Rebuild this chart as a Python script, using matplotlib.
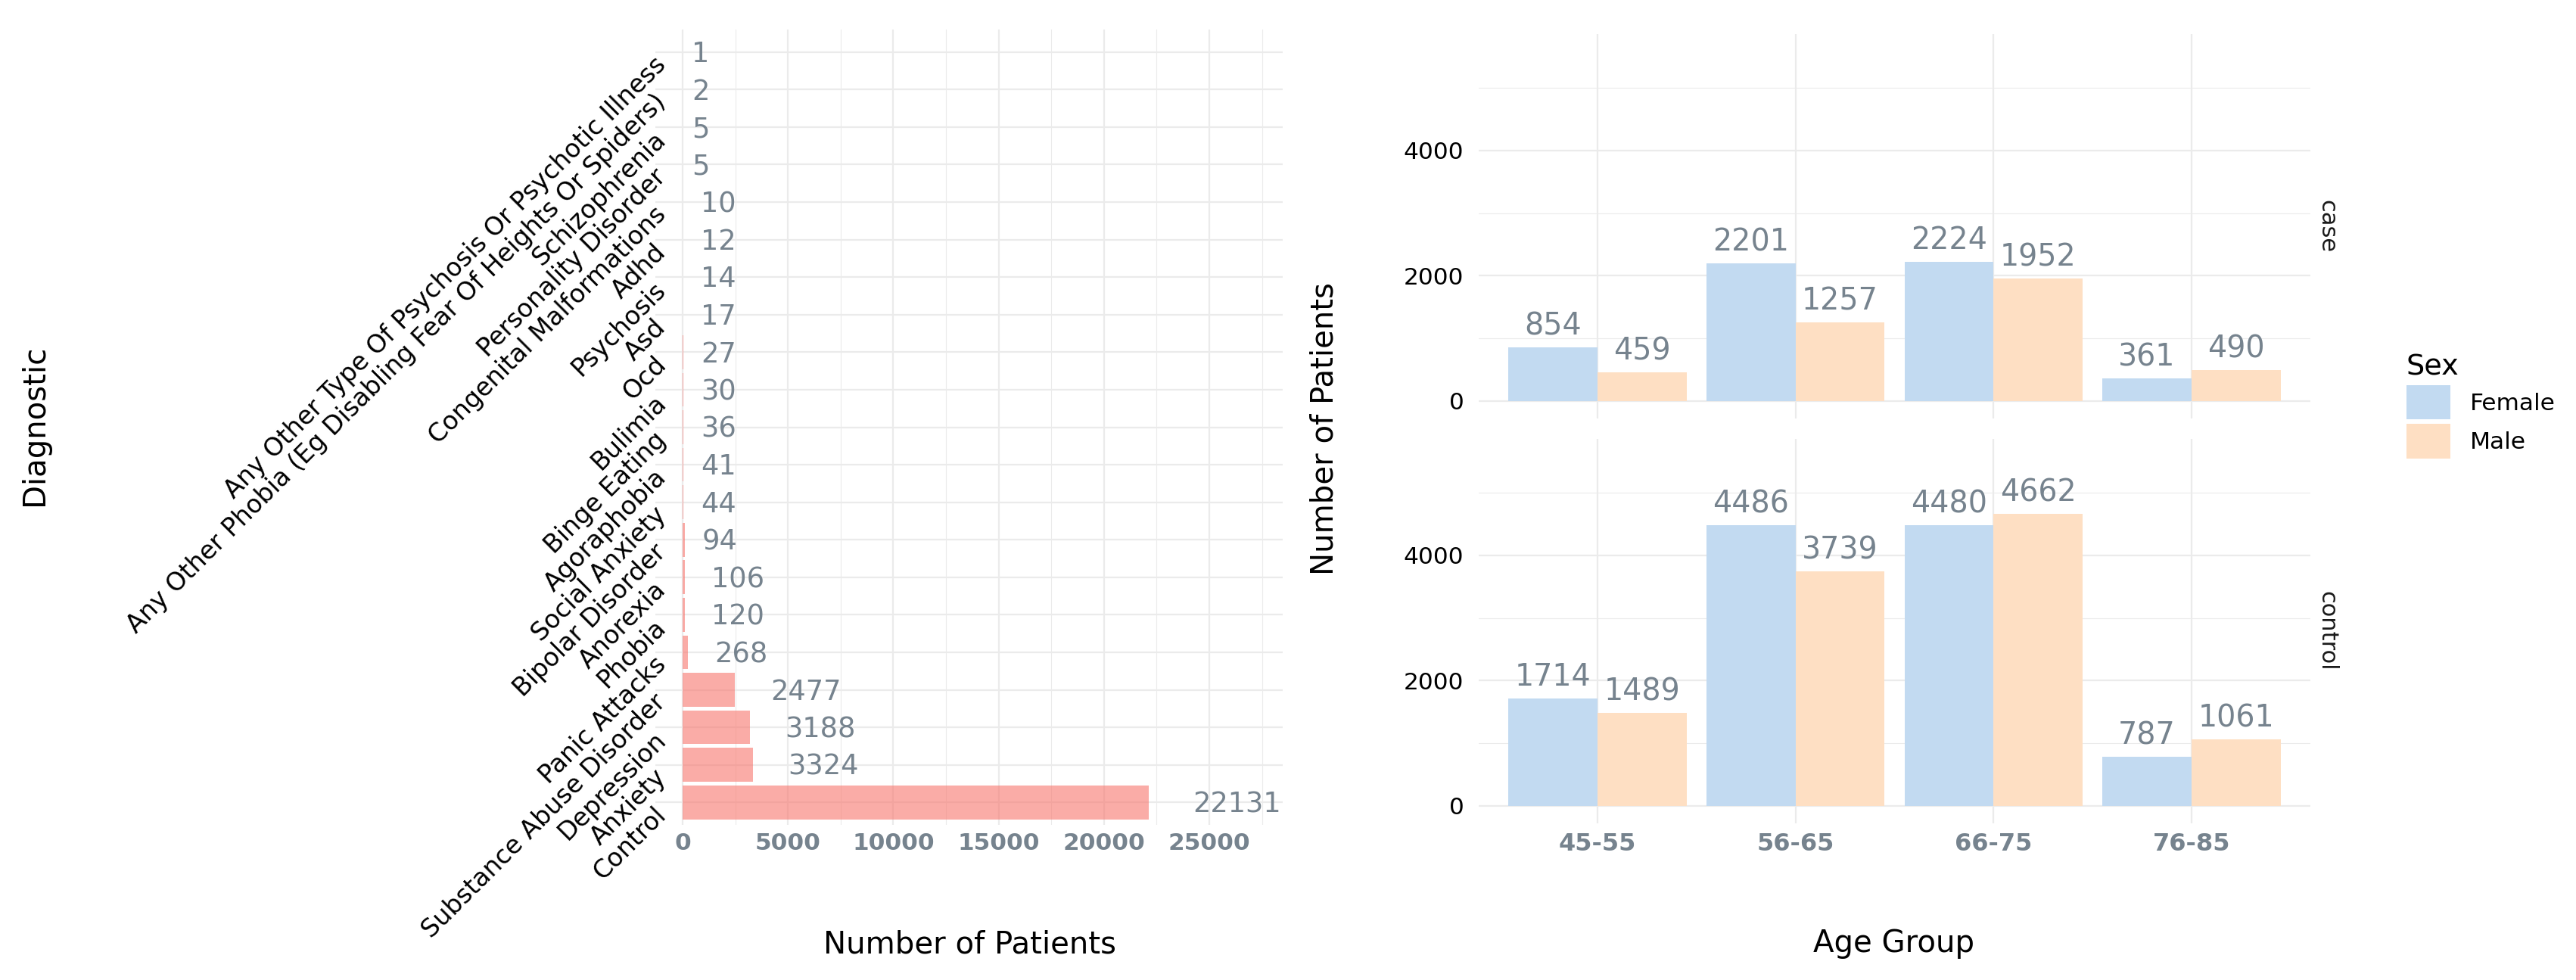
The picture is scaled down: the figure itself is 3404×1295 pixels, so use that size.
import matplotlib
matplotlib.use('Agg')
import matplotlib.pyplot as plt
from matplotlib.patches import Patch
import numpy as np

# ---------------- data ----------------
diagnostics = ["Control", "Anxiety", "Depression", "Substance Abuse Disorder",
               "Panic Attacks", "Phobia", "Anorexia", "Bipolar Disorder",
               "Social Anxiety", "Agoraphobia", "Binge Eating", "Bulimia",
               "Ocd", "Asd", "Psychosis", "Adhd", "Congenital Malformations",
               "Personality Disorder", "Schizophrenia",
               "Any Other Phobia (Eg Disabling Fear Of Heights Or Spiders)",
               "Any Other Type Of Psychosis Or Psychotic Illness"]
diag_counts = [22131, 3324, 3188, 2477, 268, 120, 106, 94, 44, 41, 36, 30,
               27, 17, 14, 12, 10, 5, 5, 2, 1]

age_groups = ["45-55", "56-65", "66-75", "76-85"]
sex_labels = ["Female", "Male"]
case_female = [854, 2201, 2224, 361]
case_male = [459, 1257, 1952, 490]
control_female = [1714, 4486, 4480, 787]
control_male = [1489, 3739, 4662, 1061]
facets = ["case", "control"]

# ---------------- style ----------------
W, H = 3404, 1295
fig = plt.figure(figsize=(W / 100, H / 100), dpi=100)
plt.rcParams['font.family'] = ['DejaVu Sans']

GRID = '#EBEBEB'
GRAY = '#76838e'
RED = '#F8766D'
BLUE = '#C2DAF1'
ORANGE = '#FEDFC3'


def frac(l, t, r, b):
    return [l / W, 1 - b / H, (r - l) / W, (b - t) / H]


def clean(ax):
    for s in ax.spines.values():
        s.set_visible(False)
    ax.set_axisbelow(True)


# ---------------- left panel ----------------
ax1 = fig.add_axes(frac(866, 39, 1695, 1090))
clean(ax1)
ax1.barh(diagnostics, diag_counts, height=0.9, color=RED, alpha=0.6, zorder=2)
ax1.set_xlim(-1293, 28484)
ax1.set_ylim(-0.6, len(diagnostics) - 0.4)
ax1.set_xticks(np.arange(0, 25001, 5000))
ax1.set_xticks(np.arange(2500, 28000, 5000), minor=True)
ax1.grid(which='major', color=GRID, lw=1.6)
ax1.xaxis.grid(which='minor', color=GRID, lw=0.8)
ax1.tick_params(axis='both', which='both', length=0)
ax1.tick_params(axis='x', labelsize=22.5, labelcolor=GRAY, pad=7)
for lab in ax1.get_xticklabels():
    lab.set_fontweight('bold')
ax1.tick_params(axis='y', labelsize=24, labelcolor='black', pad=2)
plt.setp(ax1.get_yticklabels(), rotation=45, ha='right', va='top',
         rotation_mode='anchor')
for name, v in zip(diagnostics, diag_counts):
    s = str(v)
    ax1.annotate(s, (v, name), xytext=(0.318 * len(s), -0.36),
                 textcoords='offset fontsize', ha='left', va='baseline',
                 fontsize=26.5, color=GRAY, zorder=3)

fig.text(1281 / W, 1 - 1249 / H, 'Number of Patients', ha='center',
         va='center', fontsize=29)
fig.text(46 / W, 1 - 562 / H, 'Diagnostic', ha='center', va='center',
         rotation=90, fontsize=29)

# ---------------- right panel ----------------
ax2 = fig.add_axes(frac(1954, 45, 3053, 553))
ax3 = fig.add_axes(frac(1954, 580, 3053, 1088))
x = np.arange(len(age_groups))
bw = 0.45
for ax, fem, mal, fname in [(ax2, case_female, case_male, facets[0]),
                            (ax3, control_female, control_male, facets[1])]:
    clean(ax)
    bf = ax.bar(x - bw / 2, fem, bw, color=BLUE, zorder=2)
    bm = ax.bar(x + bw / 2, mal, bw, color=ORANGE, zorder=2)
    for bars, vals in [(bf, fem), (bm, mal)]:
        for b, v in zip(bars, vals):
            ax.annotate(str(v), (b.get_x() + b.get_width() / 2, v),
                        xytext=(0, 0.42), textcoords='offset fontsize',
                        ha='center', va='baseline', fontsize=28.5, color=GRAY,
                        zorder=3)
    ax.set_xlim(-0.6, len(age_groups) - 0.4)
    ax.set_ylim(-280, 5860)
    ax.set_xticks(x)
    ax.set_xticklabels(age_groups)
    ax.set_yticks([0, 2000, 4000])
    ax.set_yticks([1000, 3000, 5000], minor=True)
    ax.grid(which='major', color=GRID, lw=1.6)
    ax.yaxis.grid(which='minor', color=GRID, lw=0.8)
    ax.tick_params(axis='both', which='both', length=0)
    ax.tick_params(axis='y', labelsize=22.5, labelcolor='black', pad=14)
    ax.tick_params(axis='x', labelsize=23, labelcolor=GRAY, pad=9)
    for lab in ax.get_xticklabels():
        lab.set_fontweight('bold')
    ax.text(1.02, 0.5, fname, transform=ax.transAxes, rotation=270,
            ha='center', va='center', fontsize=22, color='#1a1a1a')
ax2.tick_params(axis='x', labelbottom=False)

fig.text(1751 / W, 1 - 566 / H, 'Number of Patients', ha='center',
         va='center', rotation=90, fontsize=29)
fig.text(2503 / W, 1 - 1247 / H, 'Age Group', ha='center', va='center',
         fontsize=29)

handles = [Patch(facecolor=BLUE, edgecolor='none'),
           Patch(facecolor=ORANGE, edgecolor='none')]
leg = fig.legend(handles, sex_labels, title='Sex', loc='upper left',
                 bbox_to_anchor=(3180 / W, 1 - 467 / H), frameon=False,
                 fontsize=22.5, title_fontsize=27.5, handlelength=1.86,
                 handleheight=1.86, labelspacing=0.19, handletextpad=0.83,
                 borderpad=0, borderaxespad=0, alignment='left')

fig.savefig('out.png', dpi=100, facecolor='white')
